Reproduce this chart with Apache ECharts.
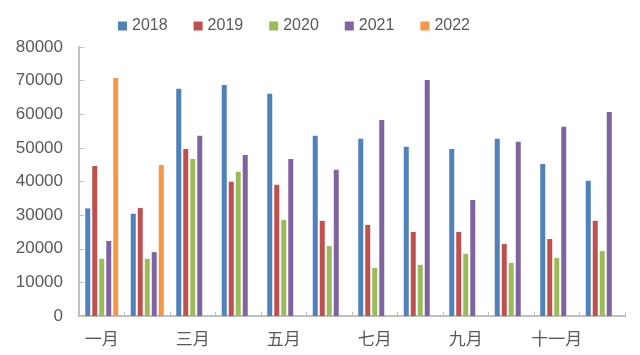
<!DOCTYPE html>
<html><head><meta charset="utf-8">
<script src="https://cdn.jsdelivr.net/npm/echarts@6/dist/echarts.min.js"></script>
<style>html,body{margin:0;padding:0;background:#fff}#c{width:640px;height:355px}</style>
</head><body><div id="c"></div>
<script>
const categories = ['一月','二月','三月','四月','五月','六月','七月','八月','九月','十月','十一月','十二月'];
const seriesNames = ['2018','2019','2020','2021','2022'];
const v2018 = [32000,30400,67600,68700,66100,53600,52700,50300,49700,52700,45200,40200];
const v2019 = [44600,32100,49700,39900,39000,28300,27100,25000,25000,21400,22900,28300];
const v2020 = [17000,17000,46700,42900,28600,20800,14300,15200,18500,15800,17300,19300];
const v2021 = [22300,19000,53600,47900,46700,43500,58300,70200,34500,51800,56300,60700];
const v2022 = [70800,44900,null,null,null,null,null,null,null,null,null,null];
const colors = ['#4F81BD','#C0504D','#9BBB59','#8064A2','#F79646'];
const allValues = [v2018,v2019,v2020,v2021,v2022];

const chart = echarts.init(document.getElementById('c'), null, {renderer:'canvas'});
chart.setOption({
  animation:false,
  color: colors,
  textStyle:{fontFamily:'Liberation Sans, Arial, sans-serif'},
  legend:{
    data: seriesNames, left:113, top:13, itemWidth:9, itemHeight:9, itemGap:26,
    icon:'rect',
    textStyle:{fontSize:16, color:'#595959', fontFamily:'Liberation Sans, Arial, sans-serif'}
  },
  grid:{left:79, right:15, top:47, bottom:39, containLabel:false},
  xAxis:{
    type:'category', data: categories,
    axisLine:{lineStyle:{color:'#BFBFBF', width:2}},
    axisTick:{show:true, inside:true, length:4, interval:0, lineStyle:{color:'#BFBFBF'}},
    axisLabel:{interval:1, fontSize:17, color:'#595959', margin:14, fontFamily:'Noto Sans CJK SC, sans-serif'}
  },
  yAxis:{
    type:'value', min:0, max:80000, interval:10000,
    axisLine:{show:true, lineStyle:{color:'#BFBFBF', width:2}},
    axisTick:{show:true, inside:true, length:5, lineStyle:{color:'#BFBFBF'}},
    splitLine:{show:false},
    axisLabel:{fontSize:17, color:'#595959', margin:16, formatter: v => String(v)}
  },
  series: seriesNames.map((n,i)=>({
    name:n, type:'bar', data: allValues[i], barWidth:5, barGap:'40%',
    itemStyle:{color:colors[i]}
  }))
});
</script></body></html>
